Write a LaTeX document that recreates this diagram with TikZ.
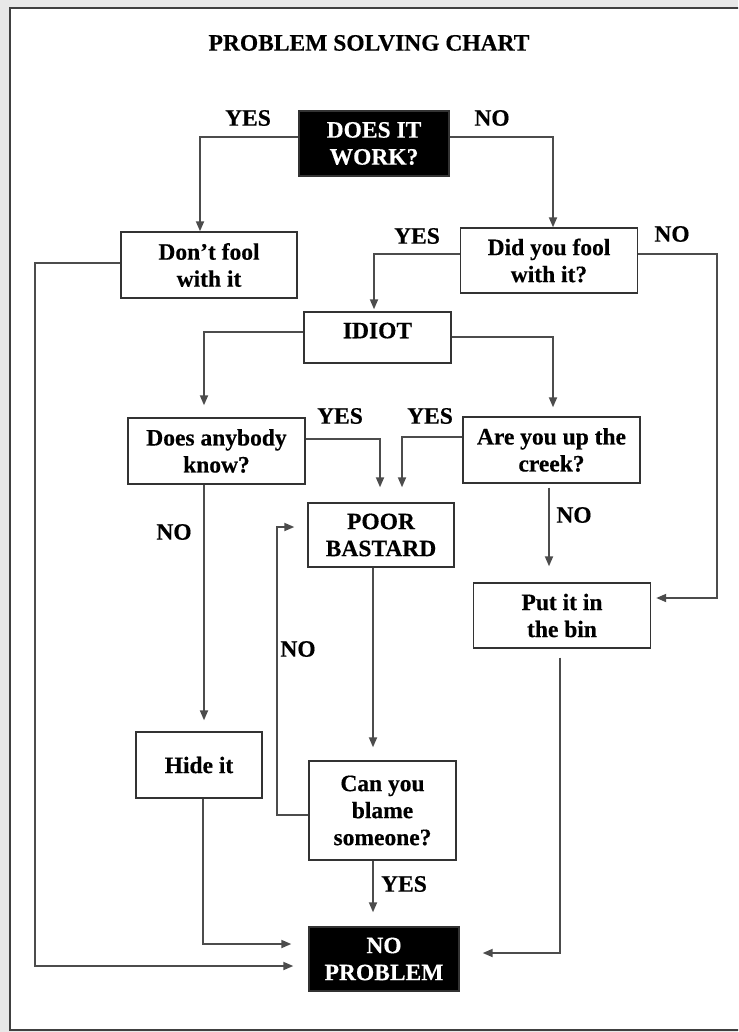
\documentclass[tikz,border=0pt]{standalone}
\usepackage{fontspec}
\setmainfont{Liberation Serif}[BoldFeatures={FakeBold=0.4}]
\usetikzlibrary{arrows.meta}
\newcommand{\chartfont}{\fontsize{23.5}{27}\selectfont\bfseries}

\begin{document}
\begin{tikzpicture}[x=1pt,y=-1pt,
        box/.style={draw=black!80,line width=1.4pt,fill=white,align=center,inner sep=0pt,font=\chartfont},
        blackbox/.style={box,fill=black,text=white},
        conn/.style={draw=black!70,line width=1.8pt,-{Triangle[length=10pt,width=8pt]}},
        tag/.style={font=\chartfont,inner sep=0pt}]
        \useasboundingbox (0,0) rectangle (738,1032);
        \clip (0,0) rectangle (738,1032);
        \fill[black!9] (0,0) rectangle (738,1032);
        \draw[black!75,line width=1.4pt,fill=white] (10,8) rectangle (760,1030);
        \node[tag] (title) at (369,43) {PROBLEM SOLVING CHART};
        % boxes
        \node[blackbox,minimum width=150pt,minimum height=65pt] (work) at (374,143.5) {DOES IT\\WORK?};
        \node[box,minimum width=176pt,minimum height=66pt] (dontfool) at (209,265) {Don’t fool\\with it};
        \node[box,minimum width=177pt,minimum height=65pt] (didyou) at (549,260.5) {Did you fool\\with it?};
        \node[box,minimum width=147pt,minimum height=51pt,text depth=14pt] (idiot) at (377.5,337.5) {IDIOT};
        \node[box,minimum width=177pt,minimum height=66pt] (anybody) at (216.5,451) {Does anybody\\know?};
        \node[box,minimum width=177pt,minimum height=66pt] (creek) at (551.5,450) {Are you up the\\creek?};
        \node[box,minimum width=146pt,minimum height=64pt] (poor) at (381,535) {POOR\\BASTARD};
        \node[box,minimum width=177pt,minimum height=65pt] (bin) at (562,615.5) {Put it in\\the bin};
        \node[box,minimum width=126pt,minimum height=66pt] (hide) at (199,765) {Hide it};
        \node[box,minimum width=147pt,minimum height=99pt] (blame) at (382.5,810.5) {Can you\\blame\\someone?};
        \node[blackbox,minimum width=150pt,minimum height=64pt] (noprob) at (384,959) {NO\\PROBLEM};
        % yes / no
        \node[tag] (yes1) at (248,118) {YES};
        \node[tag] (no1) at (492,118) {NO};
        \node[tag] (yes2) at (417,236) {YES};
        \node[tag] (no2) at (672,234) {NO};
        \node[tag] (yes3) at (340,416) {YES};
        \node[tag] (yes4) at (430,416) {YES};
        \node[tag] (no3) at (174,532) {NO};
        \node[tag] (no4) at (574,515) {NO};
        \node[tag] (no5) at (298,649) {NO};
        \node[tag] (yes5) at (404,884) {YES};
        % connectors
        \draw[conn] (work.west |- 0,137) -| (dontfool.north -| 200,0);
        \draw[conn] (work.east |- 0,137) -| (didyou.north -| 553,0);
        \draw[conn,shorten >=2pt] (didyou.west |- 0,254) -| (idiot.north -| 374,0);
        \draw[conn,shorten >=5pt] (didyou.east |- 0,254) -- (717,254) |- (bin.east |- 0,598);
        \draw[conn,shorten >=12pt] (idiot.west |- 0,332) -| (anybody.north -| 204,0);
        \draw[conn,shorten >=9pt] (idiot.east |- 0,337) -| (creek.north -| 553,0);
        \draw[conn,shorten >=15pt] (anybody.east |- 0,439) -| (poor.north -| 380,0);
        \draw[conn,shorten >=15pt] (creek.west |- 0,437) -| (poor.north -| 402,0);
        \draw[conn,shorten >=11pt] (anybody.south -| 204,0) -- (hide.north -| 204,0);
        \draw[conn,shorten <=4pt,shorten >=16pt] (creek.south -| 549,0) -- (bin.north -| 549,0);
        \draw[conn,shorten >=13pt] (poor.south -| 373,0) -- (blame.north -| 373,0);
        \draw[conn,shorten >=13pt] (blame.west |- 0,815) -- (277,815) |- (poor.west |- 0,527);
        \draw[conn,shorten >=14pt] (blame.south -| 373,0) -- (noprob.north -| 373,0);
        \draw[conn,shorten >=17pt] (hide.south -| 203,0) |- (noprob.west |- 0,944);
        \draw[conn,shorten >=15pt] (dontfool.west |- 0,263) -- (35,263) |- (noprob.west |- 0,966);
        \draw[conn,shorten <=9pt,shorten >=23pt] (bin.south -| 560,0) |- (noprob.east |- 0,953);
    \end{tikzpicture}
\end{document}
